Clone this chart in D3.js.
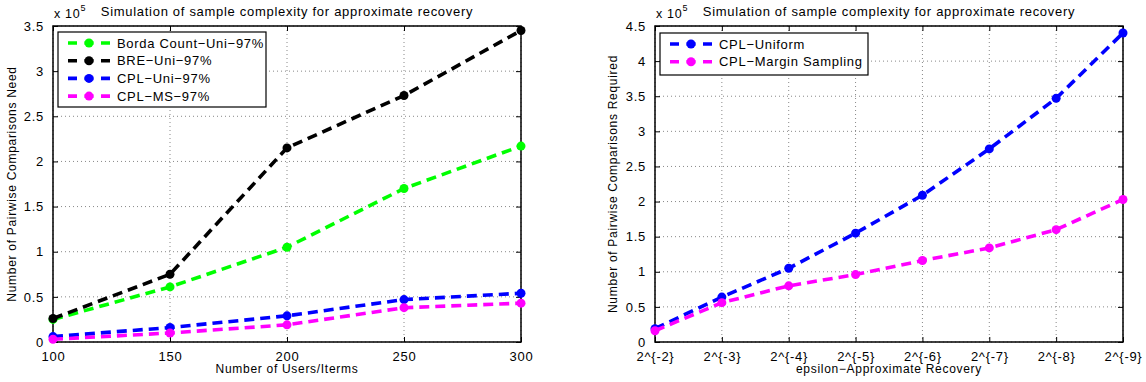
<!DOCTYPE html>
<html>
<head>
<meta charset="utf-8">
<script src="https://cdn.jsdelivr.net/npm/d3@7"></script>
<style>
  body { margin: 0; background: #fff; }
  svg { font-family: "Liberation Sans", Arial, sans-serif; }
  svg text { letter-spacing: 0.7px; fill: #000; }
</style>
</head>
<body>
<svg id="chart" width="1146" height="382"></svg>
<script>
// left panel data
var users = [100, 150, 200, 250, 300];
var bordaUni = [0.25, 0.61, 1.05, 1.70, 2.17];
var breUni = [0.26, 0.75, 2.15, 2.73, 3.45];
var cplUni = [0.06, 0.16, 0.29, 0.47, 0.54];
var cplMS = [0.03, 0.10, 0.19, 0.38, 0.43];
var leftTicksY = [0, 0.5, 1, 1.5, 2, 2.5, 3, 3.5];

// right panel data
var epsLabels = ["2^{-2}", "2^{-3}", "2^{-4}", "2^{-5}", "2^{-6}", "2^{-7}", "2^{-8}", "2^{-9}"];
var cplUniform = [0.19, 0.64, 1.05, 1.55, 2.09, 2.75, 3.47, 4.40];
var cplMargin = [0.16, 0.56, 0.80, 0.96, 1.16, 1.34, 1.60, 2.03];
var rightTicksY = [0, 0.5, 1, 1.5, 2, 2.5, 3, 3.5, 4, 4.5];

var svg = d3.select("#chart");
var top_ = 26, bottom = 342;

function panel(o) {
    var g = svg.append("g");
    var x = o.x, y = o.y;
    var x0 = x.range()[0], x1 = x.range()[1];

    // grid
    g.selectAll(".gx").data(o.xticks).enter().append("line")
        .attr("x1", function(d) { return x(d); }).attr("x2", function(d) { return x(d); })
        .attr("y1", top_).attr("y2", bottom)
        .attr("stroke", "#888").attr("stroke-width", 1).attr("stroke-dasharray", "1,3");
    g.selectAll(".gy").data(o.yticks).enter().append("line")
        .attr("x1", x0).attr("x2", x1)
        .attr("y1", function(d) { return y(d); }).attr("y2", function(d) { return y(d); })
        .attr("stroke", "#888").attr("stroke-width", 1).attr("stroke-dasharray", "1,3");

    // axes with inward ticks
    var ax = d3.axisBottom(x).tickValues(o.xticks).tickSizeInner(-5).tickSizeOuter(0).tickPadding(10);
    g.append("g").attr("transform", "translate(0," + bottom + ")").call(ax)
        .call(function(s) { s.select(".domain").remove(); });
    g.append("g").attr("transform", "translate(0," + top_ + ")")
        .call(d3.axisTop(x).tickValues(o.xticks).tickSizeInner(-5).tickSizeOuter(0).tickFormat(""))
        .call(function(s) { s.select(".domain").remove(); });
    g.append("g").attr("transform", "translate(" + x0 + ",0)")
        .call(d3.axisLeft(y).tickValues(o.yticks).tickSizeInner(-5).tickSizeOuter(0).tickPadding(9)
            .tickFormat(function(d) { return d3.format("")(d); }))
        .call(function(s) { s.select(".domain").remove(); });
    g.append("g").attr("transform", "translate(" + x1 + ",0)")
        .call(d3.axisRight(y).tickValues(o.yticks).tickSizeInner(-5).tickSizeOuter(0).tickFormat(""))
        .call(function(s) { s.select(".domain").remove(); });
    g.selectAll(".tick text").attr("font-size", "13px");

    g.append("rect").attr("x", x0).attr("y", top_).attr("width", x1 - x0).attr("height", bottom - top_)
        .attr("fill", "none").attr("stroke", "#000").attr("stroke-width", 1.5);

    // series
    var line = d3.line().x(function(d) { return x(d[0]); }).y(function(d) { return y(d[1]); });
    o.series.forEach(function(s) {
        var pts = o.xs.map(function(v, i) { return [v, s.values[i]]; });
        g.append("path").datum(pts).attr("d", line)
            .attr("fill", "none").attr("stroke", s.color).attr("stroke-width", 3.6)
            .attr("stroke-dasharray", "10,6");
        g.selectAll(null).data(pts).enter().append("circle")
            .attr("cx", function(d) { return x(d[0]); }).attr("cy", function(d) { return y(d[1]); })
            .attr("r", 4.5).attr("fill", s.color);
    });

    // labels
    g.append("text").attr("x", o.titleX).attr("y", 16).attr("text-anchor", "middle")
        .attr("font-size", "13px").text("Simulation of sample complexity for approximate recovery");
    var ex = g.append("text").attr("x", x0 + 1).attr("y", 18).attr("font-size", "12.5px");
    ex.append("tspan").text("x 10");
    ex.append("tspan").attr("dy", -7).attr("font-size", "9px").text("5");
    g.append("text").attr("x", (x0 + x1) / 2).attr("y", 373).attr("text-anchor", "middle")
        .attr("font-size", "12px").text(o.xlabel);
    g.append("text").attr("transform", "translate(" + o.ylabelX + "," + ((top_ + bottom) / 2) + ") rotate(-90)")
        .attr("text-anchor", "middle").attr("font-size", "12px").text(o.ylabel);

    // legend
    var L = o.legend;
    g.append("rect").attr("x", L.x).attr("y", L.y).attr("width", L.w).attr("height", L.h)
        .attr("fill", "#fff").attr("stroke", "#000").attr("stroke-width", 1.2);
    o.series.forEach(function(s, i) {
        var yy = L.y + 11 + i * 17.7;
        g.append("line").attr("x1", L.x + 10).attr("x2", L.x + 52).attr("y1", yy).attr("y2", yy)
            .attr("stroke", s.color).attr("stroke-width", 3.6).attr("stroke-dasharray", "9,7.5");
        g.append("circle").attr("cx", L.x + 31).attr("cy", yy).attr("r", 4.5).attr("fill", s.color);
        g.append("text").attr("x", L.x + 59).attr("y", yy + 4.5).attr("font-size", "13px").text(s.name);
    });
}

panel({
    x: d3.scaleLinear().domain([100, 300]).range([53, 521]),
    y: d3.scaleLinear().domain([0, 3.5]).range([bottom, top_]),
    xs: users,
    xticks: users,
    yticks: leftTicksY,
    series: [
        { name: "Borda Count\u2212Uni\u221297%", values: bordaUni, color: "#00ff00" },
        { name: "BRE\u2212Uni\u221297%", values: breUni, color: "#000000" },
        { name: "CPL\u2212Uni\u221297%", values: cplUni, color: "#0000ff" },
        { name: "CPL\u2212MS\u221297%", values: cplMS, color: "#ff00ff" }
    ],
    titleX: 287,
    xlabel: "Number of Users/Iterms",
    ylabel: "Number of Pairwise Comparisons Need",
    ylabelX: 16,
    legend: { x: 58, y: 32, w: 208, h: 75 }
});

panel({
    x: d3.scalePoint().domain(epsLabels).range([655, 1123]),
    y: d3.scaleLinear().domain([0, 4.5]).range([bottom, top_]),
    xs: epsLabels,
    xticks: epsLabels,
    yticks: rightTicksY,
    series: [
        { name: "CPL\u2212Uniform", values: cplUniform, color: "#0000ff" },
        { name: "CPL\u2212Margin Sampling", values: cplMargin, color: "#ff00ff" }
    ],
    titleX: 889,
    xlabel: "epsilon\u2212Approximate Recovery",
    ylabel: "Number of Pairwise Comparisons Required",
    ylabelX: 617,
    legend: { x: 660, y: 33, w: 208, h: 42 }
});
</script>
</body>
</html>
